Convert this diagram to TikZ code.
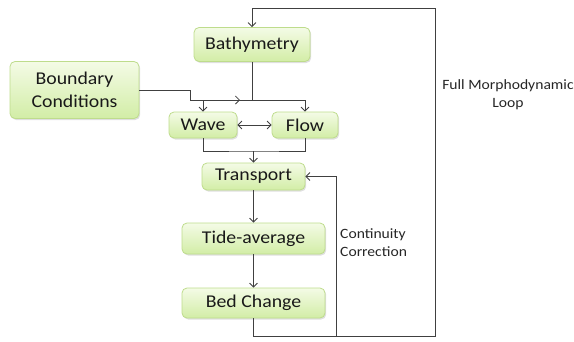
\documentclass[tikz,border=0pt]{standalone}
\usepackage{fontspec}
\setmainfont{Carlito}[FakeStretch=1.1]
\usepackage{tikz}
\usetikzlibrary{arrows.meta,shadows}

\definecolor{boxtop}{HTML}{F4FBE6}
\definecolor{boxbot}{HTML}{D2EDA6}
\definecolor{boxline}{HTML}{BEDC8C}
\definecolor{wire}{HTML}{404040}

\tikzset{
  blockbox/.style={rounded corners=5pt, draw=boxline, line width=0.8pt,
    top color=boxtop, bottom color=boxbot, inner sep=0pt,
    drop shadow={opacity=0.25, shadow xshift=1.2pt, shadow yshift=-1.5pt},
    font=\fontsize{18}{23}\selectfont, text=black!90, align=center},
  notetext/.style={font=\fontsize{14.2}{18}\selectfont, text=black!85, inner sep=0pt},
  wireline/.style={draw=wire, line width=0.8pt},
  arr/.style={wireline, -{Straight Barb[length=4pt,width=8pt]}},
}

\begin{document}
\begin{tikzpicture}[x=1pt, y=-1pt]
        \useasboundingbox (0,0) rectangle (574,341);

        % Draw blocks
        \node[blockbox, minimum width=116pt, minimum height=34pt] (bathy) at (252, 44.5) {Bathymetry};
        \node[blockbox, minimum width=129pt, minimum height=57pt] (bound) at (74.5, 90) {Boundary\\Conditions};
        \node[blockbox, minimum width=68pt, minimum height=26pt] (wave) at (203, 125) {Wave};
        \node[blockbox, minimum width=66pt, minimum height=26pt] (flow) at (305, 125) {Flow};
        \node[blockbox, minimum width=103pt, minimum height=27pt] (trans) at (253.5, 176.5) {Transport};
        \node[blockbox, minimum width=143pt, minimum height=31pt] (tide) at (253.5, 238.5) {Tide-average};
        \node[blockbox, minimum width=143pt, minimum height=30pt] (bed) at (253.5, 303) {Bed Change};

        % Labels
        \node[notetext, align=left, anchor=west] (contlbl) at (340, 243) {Continuity\\Correction};
        \node[notetext, align=center] (looplbl) at (508, 95) {Full Morphodynamic\\Loop};

        % Corner points
        \coordinate (split) at (252, 100);
        \coordinate (bcbend) at (190, 100);
        \coordinate (bcin) at (240, 100);
        \coordinate (merge) at (253.5, 151);
        \coordinate (contbot) at (336, 336);
        \coordinate (loopbot) at (435, 336);
        \coordinate (looptop) at (435, 8);

        % Draw connectors
        \draw[wireline] (bathy.south) -- (split);
        \draw[arr] (split) -| (wave.north);
        \draw[arr] (split) -| (flow.north);
        \draw[arr] (bound.east) -| (bcbend) -- (bcin);
        \draw[wireline, {Straight Barb[length=4pt,width=8pt]}-{Straight Barb[length=4pt,width=8pt]}] (wave) -- (flow);
        \draw[wireline] (wave.south) |- (merge) -| (flow.south);
        \draw[arr] (merge) -- (trans.north);
        \draw[arr] (trans) -- (tide);
        \draw[arr] (tide) -- (bed);
        \draw[arr] (bed.south) |- (loopbot) -- (looptop) -| (bathy.north);
        \draw[arr] (contbot) |- (trans.east);
      \end{tikzpicture}
\end{document}
